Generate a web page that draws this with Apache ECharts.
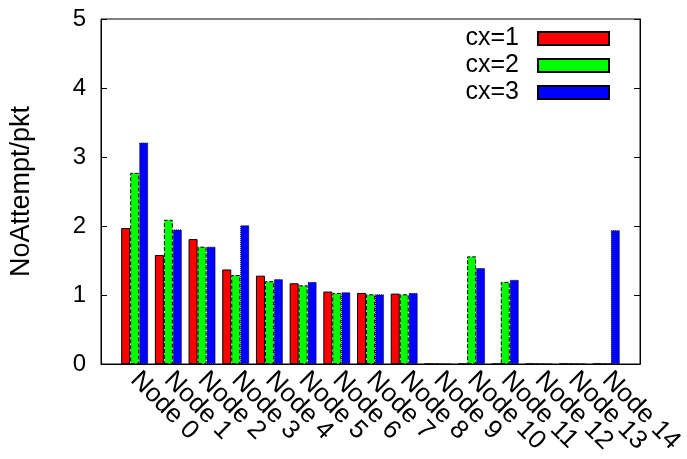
<!DOCTYPE html>
<html>
<head>
<meta charset="utf-8">
<script src="https://cdn.jsdelivr.net/npm/echarts@6/dist/echarts.min.js"></script>
<style>
html, body { margin: 0; padding: 0; background: #fff; }
#graph { width: 687px; height: 459px; }
</style>
</head>
<body>
<div id="graph"></div>
<script>
// node names along the x axis
var categories = ['Node 0', 'Node 1', 'Node 2', 'Node 3', 'Node 4', 'Node 5', 'Node 6', 'Node 7',
    'Node 8', 'Node 9', 'Node 10', 'Node 11', 'Node 12', 'Node 13', 'Node 14'];
var cx1 = [1.97, 1.58, 1.81, 1.37, 1.28, 1.17, 1.05, 1.03, 1.02, 0, 0, 0, 0, 0, 0];
var cx2 = [2.77, 2.09, 1.70, 1.29, 1.20, 1.14, 1.03, 1.01, 1.01, 0, 1.56, 1.19, 0, 0, 0];
var cx3 = [3.21, 1.95, 1.70, 2.01, 1.23, 1.19, 1.04, 1.01, 1.03, 0, 1.39, 1.22, 0, 0, 1.94];
var yTicks = [0, 1, 2, 3, 4, 5];

// gnuplot leaves one empty slot on each side of the histogram
function pad(arr) {
    return ['-'].concat(arr).concat(['-']);
}
var xCats = [''].concat(categories).concat(['']);

var font = 'Liberation Sans, Arial, sans-serif';

function barSeries(name, data, color, border) {
    return {
        name: name,
        type: 'bar',
        data: pad(data),
        barWidth: 9,
        barGap: '0%',
        itemStyle: {
            color: color,
            borderColor: '#000',
            borderWidth: 1,
            borderType: border
        }
    };
}

var chart = echarts.init(document.getElementById('graph'));
chart.setOption({
    animation: false,
    backgroundColor: '#fff',
    textStyle: { fontFamily: font },
    grid: {
        left: 98, right: 45, top: 19, bottom: 95,
        show: true, borderColor: '#000', borderWidth: 1,
        containLabel: false
    },
    legend: {
        orient: 'vertical',
        right: 77,
        top: 25,
        padding: 0,
        align: 'right',
        itemWidth: 71,
        itemHeight: 13,
        itemGap: 0,
        icon: 'rect',
        textStyle: { fontSize: 25, lineHeight: 27, color: '#000', fontFamily: font, padding: [0, 14, 0, 0] },
        data: ['cx=1', 'cx=2', 'cx=3']
    },
    xAxis: {
        type: 'category',
        data: xCats,
        boundaryGap: false,
        axisLine: { lineStyle: { color: '#000' } },
        axisTick: { show: false },
        axisLabel: {
            interval: 0,
            rotate: -45,
            margin: 12,
            fontSize: 26,
            color: '#000',
            fontFamily: font
        },
        splitLine: { show: false }
    },
    yAxis: [
        {
            type: 'value',
            min: yTicks[0], max: yTicks[yTicks.length - 1], interval: 1,
            name: 'NoAttempt/pkt',
            nameLocation: 'middle',
            nameGap: 66,
            nameTextStyle: { fontSize: 27, color: '#000', fontFamily: font },
            axisLine: { show: true, lineStyle: { color: '#000' } },
            axisTick: { show: true, inside: true, length: 6, lineStyle: { color: '#000' } },
            axisLabel: { fontSize: 24, color: '#000', margin: 15, fontFamily: font },
            splitLine: { show: false }
        },
        {
            type: 'value',
            position: 'right',
            min: yTicks[0], max: yTicks[yTicks.length - 1], interval: 1,
            axisLine: { show: true, lineStyle: { color: '#000' } },
            axisTick: { show: true, inside: true, length: 6, lineStyle: { color: '#000' } },
            axisLabel: { show: false },
            splitLine: { show: false }
        }
    ],
    series: [
        barSeries('cx=1', cx1, '#ff0000', 'solid'),
        barSeries('cx=2', cx2, '#00ff00', 'dashed'),
        barSeries('cx=3', cx3, '#0000ff', 'dotted')
    ]
});
</script>
</body>
</html>
